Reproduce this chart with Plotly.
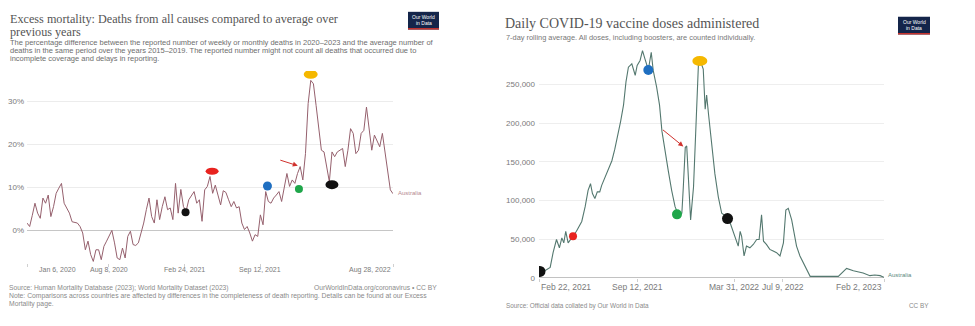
import plotly.graph_objects as go
import pandas as pd

W, H = 975, 326

# ---------------- Left chart: excess mortality (Australia) ----------------
excess_start = "2020-01-06"
excess_end = "2022-08-28"
excess_pct = [
    1.7, 0.9, 3.5, 6.3, 4.0, 2.8, 7.5, 6.3, 8.2, 3.2,
    5.5, 8.6, 9.8, 10.9, 6.3, 5.0, 4.0, 2.0, 1.8, 1.7,
    0.9, -0.6, -4.5, -2.5, -5.6, -7.2, -4.5, -4.5, -6.8, -3.7,
    -2.5, -1.4, 0.0, -2.9, -6.4, -6.8, -4.1, -6.4, -1.4, -0.2,
    -3.3, -3.5, -2.9, -0.6, 1.7, 4.8, 7.5, 3.2, 1.7, 7.1,
    2.5, 5.5, 7.8, 4.8, 5.2, 2.5, 10.9, 4.0, 9.5, 5.5,
    4.5, 7.1, 8.2, 9.0, 6.3,
    7.1, 2.1, 9.4, 10.2, 12.5, 8.6, 10.5, 8.2, 5.9,
    9.2, 8.8, 7.1, 5.5, 6.7, 5.2, 5.5, 1.7, 0.2,
    0.9, -0.6, -2.5, -1.0, -1.4, 3.6, 1.3, 9.0, 6.7, 6.3,
    7.5, 8.2, 9.0, 6.7, 10.2, 13.2, 10.2, 11.7, 10.9,
    13.2, 14.8, 11.7, 17.8, 29.4, 34.8, 34.0, 29.0, 24.0,
    18.6, 18.2, 14.8, 11.3, 18.2, 17.1, 18.2, 18.6, 19.0, 14.8,
    18.6, 23.6, 22.5, 17.8, 18.6, 22.5, 23.2, 28.6, 24.0,
    18.6, 22.1, 20.9, 19.4, 22.5, 18.2, 13.2, 9.4, 8.5,
]
excess_dates = pd.date_range(excess_start, excess_end, periods=len(excess_pct))

left_tick_dates = ["2020-01-06", "2020-08-08", "2021-02-24", "2021-09-12", "2022-08-28"]
left_tick_labels = ["Jan 6, 2020", "Aug 8, 2020", "Feb 24, 2021", "Sep 12, 2021", "Aug 28, 2022"]
left_y_ticks = [0, 10, 20, 30]
left_y_labels = ["0%", "10%", "20%", "30%"]

left_mark_dates = ["2021-02-27", "2021-05-08", "2021-10-01", "2021-12-23", "2022-01-23", "2022-03-20"]
left_mark_values = [4.2, 13.7, 10.3, 9.6, 36.2, 10.6]
left_mark_colors = ["#111111", "#e8231f", "#1f6fc1", "#1fa64a", "#f5b800", "#111111"]
left_mark_sizes = [(8, 8), (13, 7), (9, 9), (8, 8), (14, 9), (13, 9)]
left_arrow = {"from": ("2021-10-31", 16.4), "to": ("2021-12-20", 15.0)}

# ---------------- Right chart: daily vaccine doses (Australia) ----------------
dose_dates = [
    "2021-02-22", "2021-02-24", "2021-03-06", "2021-03-17", "2021-03-23", "2021-03-30",
    "2021-04-05", "2021-04-10", "2021-04-14", "2021-04-18", "2021-04-23", "2021-05-02",
    "2021-05-10", "2021-05-21", "2021-05-28", "2021-06-03", "2021-06-08", "2021-06-12",
    "2021-06-17", "2021-06-22", "2021-06-27", "2021-07-01", "2021-07-08", "2021-07-15",
    "2021-07-22", "2021-07-28", "2021-08-04", "2021-08-09", "2021-08-15", "2021-08-20",
    "2021-08-25", "2021-09-01", "2021-09-08", "2021-09-12", "2021-09-18", "2021-09-23",
    "2021-09-28", "2021-10-05", "2021-10-11", "2021-10-15", "2021-10-22", "2021-10-28",
    "2021-11-02", "2021-11-08", "2021-11-15", "2021-11-22", "2021-11-29", "2021-12-06",
    "2021-12-13", "2021-12-16", "2021-12-20", "2021-12-23", "2021-12-26", "2021-12-31",
    "2022-01-06", "2022-01-11", "2022-01-16", "2022-01-21", "2022-01-26", "2022-01-30",
    "2022-02-02", "2022-02-06", "2022-02-12", "2022-02-19", "2022-02-26", "2022-03-05",
    "2022-03-19", "2022-03-29", "2022-04-05", "2022-04-08", "2022-04-12", "2022-04-15",
    "2022-04-20", "2022-04-25", "2022-05-02", "2022-05-09", "2022-05-16", "2022-05-21",
    "2022-05-26", "2022-05-30", "2022-06-05", "2022-06-12", "2022-06-19", "2022-06-26",
    "2022-07-03", "2022-07-10", "2022-07-15", "2022-07-20", "2022-07-27", "2022-08-03",
    "2022-08-06", "2022-08-13", "2022-08-23", "2022-08-30", "2022-09-03", "2022-10-31",
    "2022-11-17", "2022-12-01", "2022-12-21", "2023-01-04", "2023-01-14", "2023-01-25",
    "2023-02-02",
]
dose_values = [
    5000, 7200, 9300, 13600, 32700, 49700,
    39000, 51800, 45400, 60300, 45400, 53900,
    60300, 73000, 92100, 113300, 121800, 109000,
    102700, 111200, 111200, 119700, 130300, 138800,
    151500, 166400, 185500, 202400, 223700, 253400,
    272400, 276700, 261900, 274600, 281000, 293700,
    283100, 269000, 291600, 268200, 247000, 223700,
    189700, 164200, 138800, 113300, 92100, 81500,
    83600, 117600, 168500, 170600, 130300, 75100,
    117600, 202400, 274600, 278800, 270000, 218000,
    236400, 210900, 172700, 134500, 104800, 83600,
    77200, 58100, 45400, 41200, 60300, 53900,
    28400, 41200, 39000, 43300, 49700, 49700,
    81500, 47500, 43300, 36900, 34800, 32700,
    28400, 45400, 87800, 90000, 75100, 49700,
    41200, 28400, 15700, 5100, 2100, 2100,
    12300, 9300, 6400, 3000, 3800, 3000,
    850,
]
dose_start = "2021-02-22"
dose_end = "2023-02-02"
right_tick_dates = ["2021-02-22", "2021-09-12", "2022-03-31", "2022-07-09", "2023-02-02"]
right_tick_labels = ["Feb 22, 2021", "Sep 12, 2021", "Mar 31, 2022", "Jul 9, 2022", "Feb 2, 2023"]
right_y_ticks = [0, 50000, 100000, 150000, 200000, 250000]
right_y_labels = ["0", "50,000", "100,000", "150,000", "200,000", "250,000"]

right_mark_dates = ["2021-02-24", "2021-05-03", "2021-10-05", "2021-12-03", "2022-01-19", "2022-03-17"]
right_mark_values = [8400, 53800, 268800, 82200, 280300, 76700]
right_mark_colors = ["#111111", "#e8231f", "#1f6fc1", "#1fa64a", "#f5b800", "#111111"]
right_mark_sizes = [(11, 11), (8, 8), (10, 10), (10, 10), (15, 10), (11, 11)]
right_arrow = {"from": ("2021-11-01", 192900), "to": ("2021-12-16", 170000)}

# ---------------- helpers ----------------
def px(x):
    return x / W

def py(y):
    return 1 - y / H

EX_COLOR = "#95606d"
VX_COLOR = "#54786f"
SANS = "Liberation Sans"
SERIF = "Liberation Serif"

fig = go.Figure()
fig.add_trace(go.Scatter(x=excess_dates, y=excess_pct, mode="lines",
                         line=dict(color=EX_COLOR, width=1), xaxis="x", yaxis="y",
                         hoverinfo="skip", showlegend=False))
fig.add_trace(go.Scatter(x=pd.to_datetime(dose_dates), y=dose_values, mode="lines",
                         line=dict(color=VX_COLOR, width=1.1), xaxis="x2", yaxis="y2",
                         hoverinfo="skip", showlegend=False))

shapes = []
annotations = []

def add_marks(dates, values, colors, sizes, xr, yr):
    for d, v, c, (w, h) in zip(dates, values, colors, sizes):
        shapes.append(dict(type="circle", xref=xr, yref=yr, xsizemode="pixel", ysizemode="pixel",
                           xanchor=d, yanchor=v, x0=-w / 2, x1=w / 2, y0=-h / 2, y1=h / 2,
                           fillcolor=c, line=dict(width=0), layer="above"))

add_marks(left_mark_dates, left_mark_values, left_mark_colors, left_mark_sizes, "x", "y")
add_marks(right_mark_dates, right_mark_values, right_mark_colors, right_mark_sizes, "x2", "y2")

for arr, xr, yr in [(left_arrow, "x", "y"), (right_arrow, "x2", "y2")]:
    annotations.append(dict(x=arr["to"][0], y=arr["to"][1], ax=arr["from"][0], ay=arr["from"][1],
                            xref=xr, yref=yr, axref=xr, ayref=yr, showarrow=True, text="",
                            arrowhead=2, arrowsize=1, arrowwidth=1, arrowcolor="#d0312d"))

# tick labels anchored to the date axes
for i, (d, lab) in enumerate(zip(left_tick_dates, left_tick_labels)):
    anchor = "left" if i == 0 else ("right" if i == len(left_tick_dates) - 1 else "center")
    annotations.append(dict(x=d, y=0, xref="x", yref="y domain", text=lab, showarrow=False,
                            xanchor=anchor, yanchor="top", yshift=-1, xshift=10 if i == 0 else 0,
                            font=dict(family=SANS, size=7, color="#7a7a7a")))
for i, (d, lab) in enumerate(zip(right_tick_dates, right_tick_labels)):
    anchor = "left" if i == 0 else ("right" if i == len(right_tick_dates) - 1 else "center")
    annotations.append(dict(x=d, y=0, xref="x2", yref="y2 domain", text=lab, showarrow=False,
                            xanchor=anchor, yanchor="top", yshift=-2,
                            font=dict(family=SANS, size=8.5, color="#7a7a7a")))

def text(x, y, s, size, color="#8a8a8a", family=SANS, anchor="left"):
    annotations.append(dict(x=px(x), y=py(y), xref="paper", yref="paper", text=s, showarrow=False,
                            xanchor=anchor, yanchor="middle", borderpad=0,
                            font=dict(family=family, size=size, color=color)))

# Left panel texts
text(9, 19, "Excess mortality: Deaths from all causes compared to average over", 12.2, "#555555", SERIF)
text(9, 32.5, "previous years", 12.2, "#555555", SERIF)
text(9, 43.5, "The percentage difference between the reported number of weekly or monthly deaths in 2020–2023 and the average number of", 7.5, "#6e6e6e")
text(9, 51.5, "deaths in the same period over the years 2015–2019. The reported number might not count all deaths that occurred due to", 7.5, "#6e6e6e")
text(9, 59, "incomplete coverage and delays in reporting.", 7.5, "#6e6e6e")
text(8, 292.7, "Source: Human Mortality Database (2023); World Mortality Dataset (2023)", 6.7)
text(438, 292.7, "OurWorldInData.org/coronavirus • CC BY", 6.7, anchor="right")
text(8, 300.7, "Note: Comparisons across countries are affected by differences in the completeness of death reporting. Details can be found at our Excess", 6.8)
text(8, 308.5, "Mortality page.", 6.8)
text(397, 196.5, "Australia", 6, "#b58a92")

# Right panel texts
text(504, 24, "Daily COVID-19 vaccine doses administered", 14, "#555555", SERIF)
text(505, 38, "7-day rolling average. All doses, including boosters, are counted individually.", 7.4, "#777777")
text(505, 310.7, "Source: Official data collated by Our World in Data", 6.4)
text(930, 310.7, "CC BY", 6.4, anchor="right")
text(887, 279, "Australia", 6, "#5d8a7f")

# Logos
for (x0, y0, x1, y1) in [(408, 12, 439, 30), (898, 17, 930, 35)]:
    shapes.append(dict(type="rect", xref="paper", yref="paper", x0=px(x0), x1=px(x1),
                       y0=py(y1), y1=py(y0), fillcolor="#14254a", line=dict(width=0)))
    shapes.append(dict(type="rect", xref="paper", yref="paper", x0=px(x0), x1=px(x1),
                       y0=py(y1), y1=py(y1 - 1.5), fillcolor="#c8332d", line=dict(width=0)))
    cx = (x0 + x1) / 2
    text(cx, y0 + 5.5, "Our World", 5, "#ffffff", anchor="center")
    text(cx, y0 + 11, "in Data", 5, "#ffffff", anchor="center")

fig.update_layout(
    width=W, height=H, margin=dict(l=0, r=0, t=0, b=0),
    paper_bgcolor="white", plot_bgcolor="white", showlegend=False,
    xaxis=dict(domain=[px(27), px(393)], type="date", range=[excess_start, excess_end],
               showgrid=False, zeroline=False, showline=False, showticklabels=False,
               tickvals=left_tick_dates, ticks="outside", ticklen=3, tickcolor="#d0d0d0"),
    yaxis=dict(domain=[py(266.8), py(72)], range=[-7.5, 37], tickvals=left_y_ticks,
               ticktext=left_y_labels, gridcolor="#ececec", gridwidth=1, zeroline=True,
               zerolinecolor="#c6c6c6", zerolinewidth=1.3, showline=False,
               tickfont=dict(family=SANS, size=8, color="#7a7a7a"), ticklabelstandoff=2),
    xaxis2=dict(domain=[px(539), px(884)], type="date", range=[dose_start, dose_end],
                anchor="y2", showgrid=False, zeroline=False, showline=False, showticklabels=False,
                tickvals=right_tick_dates, ticks="outside", ticklen=3, tickcolor="#cfcfcf"),
    yaxis2=dict(domain=[py(282.3), py(46.5)], range=[0, 300000], anchor="x2",
                tickvals=right_y_ticks, ticktext=right_y_labels, gridcolor="#eeeeee",
                zeroline=True, zerolinecolor="#c2c2c2", zerolinewidth=1.2, showline=False,
                tickfont=dict(family=SANS, size=8, color="#7a7a7a"), ticklabelstandoff=3),
    shapes=shapes, annotations=annotations,
)

fig.write_html("out.html")
